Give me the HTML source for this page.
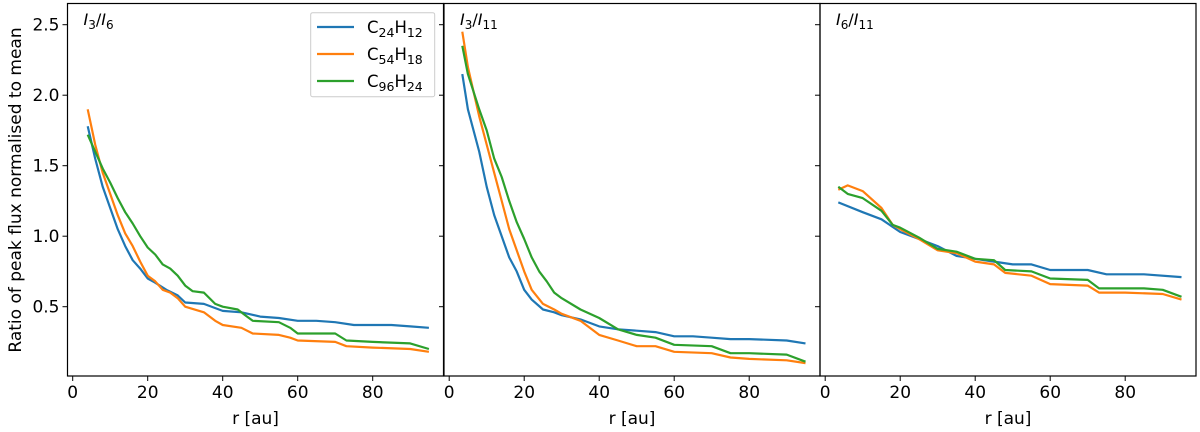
<!DOCTYPE html>
<html><head><meta charset="utf-8"><style>
body{margin:0;background:#fff}
svg{display:block;font-family:"DejaVu Sans","Liberation Sans",sans-serif}
</style></head><body>
<svg id="c" width="1200" height="432"></svg>
<script>
const panelTitles=[["I","3","I","6"],["I","3","I","11"],["I","6","I","11"]];
const seriesNames=[["24","12"],["54","18"],["96","24"]];
const colors=["#1f77b4","#ff7f0e","#2ca02c"];
const xTicks=[0,20,40,60,80];
const yTicks=[0.5,1.0,1.5,2.0,2.5];
// panel 1
const p1r_blue=[4,6,8,10,12,14,16,18,20,22,25,28,30,35,40,45,50,55,60,65,70,75,80,85,90,95];
const p1v_blue=[1.78,1.55,1.35,1.2,1.05,0.93,0.83,0.77,0.7,0.67,0.62,0.58,0.53,0.52,0.47,0.46,0.43,0.42,0.4,0.4,0.39,0.37,0.37,0.37,0.36,0.35];
const p1r_orange=[4,6,8,10,12,14,16,18,20,22,24,26,28,30,35,38,40,45,48,55,58,60,70,73,80,90,95];
const p1v_orange=[1.9,1.65,1.45,1.3,1.15,1.02,0.93,0.82,0.72,0.68,0.62,0.6,0.56,0.5,0.46,0.4,0.37,0.35,0.31,0.3,0.28,0.26,0.25,0.22,0.21,0.2,0.18];
const p1r_green=[4,6,8,10,12,14,16,18,20,22,24,26,28,30,32,35,38,40,44,46,48,55,58,60,70,73,80,90,95];
const p1v_green=[1.72,1.6,1.48,1.38,1.27,1.17,1.09,1.0,0.92,0.87,0.8,0.77,0.72,0.65,0.61,0.6,0.52,0.5,0.48,0.44,0.4,0.39,0.35,0.31,0.31,0.26,0.25,0.24,0.2];
// panel 2
const p2r_blue=[3.5,5,8,10,12,14,16,18,20,22,25,28,30,35,40,45,50,55,60,65,70,75,80,90,95];
const p2v_blue=[2.15,1.9,1.6,1.35,1.15,1.0,0.85,0.75,0.62,0.55,0.48,0.46,0.44,0.41,0.36,0.34,0.33,0.32,0.29,0.29,0.28,0.27,0.27,0.26,0.24];
const p2r_orange=[3.5,5,8,10,12,14,16,18,20,22,25,28,30,35,40,45,50,55,60,70,75,80,90,95];
const p2v_orange=[2.45,2.2,1.85,1.65,1.45,1.25,1.05,0.9,0.75,0.62,0.52,0.48,0.45,0.4,0.3,0.26,0.22,0.22,0.18,0.17,0.14,0.13,0.12,0.1];
const p2r_green=[3.5,5,8,10,12,14,16,18,20,22,24,26,28,30,35,40,45,50,55,60,70,75,80,90,95];
const p2v_green=[2.35,2.15,1.9,1.75,1.55,1.42,1.25,1.1,0.98,0.85,0.75,0.68,0.6,0.56,0.48,0.42,0.34,0.3,0.28,0.23,0.22,0.17,0.17,0.16,0.11];
// panel 3
const p3r_blue=[3.5,10,15,20,25,30,35,40,45,50,55,60,70,75,85,95];
const p3v_blue=[1.24,1.17,1.12,1.03,0.98,0.93,0.86,0.84,0.82,0.8,0.8,0.76,0.76,0.73,0.73,0.71];
const p3r_orange=[3.5,6,10,15,18,20,25,30,35,40,45,48,55,60,70,73,80,90,95];
const p3v_orange=[1.33,1.36,1.32,1.2,1.08,1.05,0.98,0.9,0.88,0.82,0.8,0.74,0.72,0.66,0.65,0.6,0.6,0.59,0.55];
const p3r_green=[3.5,6,10,15,18,20,25,30,35,40,45,48,55,60,70,73,85,90,95];
const p3v_green=[1.35,1.3,1.27,1.18,1.08,1.06,0.99,0.91,0.89,0.84,0.83,0.76,0.75,0.7,0.69,0.63,0.63,0.62,0.57];

const panelData=[
 [[p1r_blue,p1v_blue],[p1r_orange,p1v_orange],[p1r_green,p1v_green]],
 [[p2r_blue,p2v_blue],[p2r_orange,p2v_orange],[p2r_green,p2v_green]],
 [[p3r_blue,p3v_blue],[p3r_orange,p3v_orange],[p3r_green,p3v_green]]];

const NS="http://www.w3.org/2000/svg";
const svg=document.getElementById('c');
function mk(t,a,p){const e=document.createElementNS(NS,t);for(const k in a)e.setAttribute(k,a[k]);(p||svg).appendChild(e);return e;}
const lefts=[67.5,444,820], W=376, topY=3.5, botY=376;
const y=v=>306.7-(v-0.5)*141;
for(let p=0;p<3;p++){
  const L=lefts[p];
  const x=r=>L+5.2+r*3.75;
  const g=mk('g',{});
  
  
  panelData[p].forEach((s,i)=>{
    const pts=s[0].map((r,k)=>x(r).toFixed(1)+','+y(s[1][k]).toFixed(1)).join(' ');
    const pl=mk('polyline',{points:pts,fill:'none',stroke:colors[i],'stroke-width':2.2,'stroke-linejoin':'round'},g);
    
    
  });
  const fr=mk('rect',{x:L,y:topY,width:W,height:botY-topY,fill:'none',stroke:'#000','stroke-width':1.2},g);
  
  
  xTicks.forEach(t=>{
    mk('line',{x1:x(t),x2:x(t),y1:botY,y2:botY+5,stroke:'#000'},g);
    const tx=mk('text',{x:x(t),y:botY+22,'text-anchor':'middle','font-size':17},g);
    tx.textContent=t;
    
    
  });
  yTicks.forEach(t=>{
    mk('line',{x1:L,x2:L-5,y1:y(t),y2:y(t),stroke:'#000'},g);
    if(p==0){
      const tx=mk('text',{x:L-8,y:y(t)+6,'text-anchor':'end','font-size':17},g);
      tx.textContent=t.toFixed(1);
      
      
    }
  });
  const xl=mk('text',{x:L+W/2,y:424,'text-anchor':'middle','font-size':17},g);
  xl.textContent='r [au]';
  
  
  const pt=panelTitles[p];
  const tt=mk('text',{x:L+16,y:25,'font-size':16},g);
  
  
  tt.innerHTML='<tspan font-style="italic">'+pt[0]+'</tspan><tspan font-size="12" dy="4">'+pt[1]+'</tspan><tspan dy="-4">/</tspan><tspan font-style="italic">'+pt[2]+'</tspan><tspan font-size="12" dy="4">'+pt[3]+'</tspan>';
}
const yl=mk('text',{x:0,y:0,transform:'translate(21,190) rotate(-90)','text-anchor':'middle','font-size':17});
yl.textContent='Ratio of peak flux normalised to mean';


const lg=mk('g',{});


mk('rect',{x:310.7,y:12.7,width:124,height:84,rx:2,fill:'#fff',stroke:'#ccc'},lg);
seriesNames.forEach((n,i)=>{
  const yy=27+i*27;
  mk('line',{x1:317,x2:354,y1:yy,y2:yy,stroke:colors[i],'stroke-width':2.2},lg);
  const t=mk('text',{x:367,y:yy+6,'font-size':16.5},lg);
  
  
  t.innerHTML='C<tspan font-size="12.5" dy="4">'+n[0]+'</tspan><tspan dy="-4">H</tspan><tspan font-size="12.5" dy="4">'+n[1]+'</tspan>';
});
</script>
</body></html>
